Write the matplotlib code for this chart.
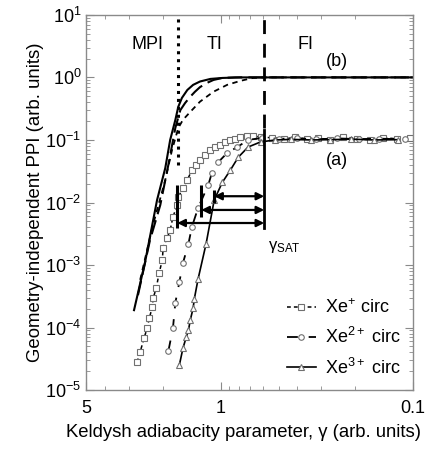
import numpy as np
import matplotlib.pyplot as plt
from matplotlib.ticker import LogLocator, NullFormatter, FixedLocator

plt.rcParams['font.family'] = ['Liberation Sans', 'DejaVu Sans']
plt.rcParams['mathtext.fontset'] = 'custom'
plt.rcParams['mathtext.rm'] = 'Liberation Sans'
plt.rcParams['mathtext.it'] = 'Liberation Sans:italic'

# curve set (b): lines only
gam_b1 = [2.82, 2.47, 2.14, 1.94, 1.83, 1.72, 1.66, 1.59, 1.49, 1.39, 1.28, 1.13, 0.98, 0.79, 0.5, 0.1]
ppi_b1 = [1.9e-4, 1.12e-3, 0.011, 0.0356, 0.1, 0.209, 0.34, 0.47, 0.63, 0.76, 0.86, 0.946, 0.98, 1.0, 1.0, 1.0]
gam_b2 = [2.69, 2.33, 2.06, 1.87, 1.72, 1.62, 1.53, 1.44, 1.36, 1.28, 1.175, 1.09, 0.98, 0.84, 0.5, 0.1]
ppi_b2 = [3.3e-4, 2.5e-3, 9.1e-3, 0.04, 0.156, 0.30, 0.39, 0.49, 0.59, 0.70, 0.82, 0.91, 0.98, 1.0, 1.0, 1.0]
gam_b3 = [2.62, 2.27, 1.94, 1.79, 1.66, 1.57, 1.44, 1.28, 1.09, 0.925, 0.79, 0.68, 0.587, 0.3, 0.1]
ppi_b3 = [5.8e-4, 3.9e-3, 0.023, 0.069, 0.156, 0.21, 0.28, 0.41, 0.59, 0.76, 0.88, 0.98, 1.0, 1.0, 1.0]

# curve set (a): Xe+ squares
gam_x1 = [2.72, 2.62, 2.50, 2.41, 2.35, 2.27, 2.24, 2.16, 2.09, 2.01, 1.99, 1.90,
          1.83, 1.77, 1.68, 1.66, 1.57, 1.49, 1.41, 1.34, 1.28, 1.21, 1.13, 1.07,
          1.01, 0.95, 0.89, 0.84, 0.79, 0.73, 0.68, 0.62, 0.54, 0.47, 0.41, 0.356,
          0.312, 0.27, 0.231, 0.195, 0.167, 0.143, 0.121, 0.104]
ppi_x1 = [2.8e-5, 4.1e-5, 6.8e-5, 9.8e-5, 1.4e-4, 2.1e-4, 3.0e-4, 4.3e-4, 7.4e-4,
          1.2e-3, 1.9e-3, 2.7e-3, 3.6e-3, 5.9e-3, 9.1e-3, 0.0122, 0.017, 0.023,
          0.033, 0.040, 0.048, 0.058, 0.069, 0.077, 0.083, 0.093, 0.10, 0.104,
          0.110, 0.114, 0.115, 0.112, 0.108, 0.104, 0.110, 0.103, 0.107, 0.101,
          0.112, 0.105, 0.100, 0.109, 0.104, 0.106]

# Xe2+ circles
gam_x2 = [1.87, 1.77, 1.72, 1.64, 1.57, 1.47, 1.41, 1.31, 1.16, 1.11, 1.03, 0.925,
          0.82, 0.72, 0.61, 0.50, 0.40, 0.32, 0.25, 0.19, 0.15, 0.11]
ppi_x2 = [4.2e-5, 9.8e-5, 2.5e-4, 5.3e-4, 1.08e-3, 2.2e-3, 4.1e-3, 8.2e-3, 0.019,
          0.030, 0.044, 0.062, 0.077, 0.10, 0.108, 0.104, 0.107, 0.102, 0.106,
          0.103, 0.105, 0.102]

# Xe3+ triangles
gam_x3 = [1.64, 1.57, 1.51, 1.47, 1.44, 1.39, 1.37, 1.31, 1.19, 1.08, 0.98, 0.89,
          0.81, 0.72, 0.62, 0.52, 0.43, 0.34, 0.27, 0.21, 0.16, 0.12]
ppi_x3 = [2.5e-5, 4.7e-5, 7.0e-5, 9.1e-5, 1.3e-4, 2.05e-4, 2.9e-4, 6.0e-4, 2.2e-3,
          0.011, 0.021, 0.033, 0.053, 0.077, 0.093, 0.100, 0.102, 0.100, 0.101,
          0.103, 0.100, 0.101]

# regime boundaries and saturation
gam_mpi_ti = 1.66
gam_ti_fi = 0.594
gam_sat = 0.594
sat_top, sat_bot = 0.145, 0.0039

# onset bars and arrows (one per charge state)
bar_gam = [1.68, 1.26, 1.08]
bar_hi = [0.019, 0.019, 0.0158]
bar_lo = [0.0039, 0.0059, 0.0098]
arrow_ppi = [0.0047, 0.0076, 0.0126]

fig = plt.figure(figsize=(4.33, 4.5), dpi=100)
ax = fig.add_axes([0.199, 0.133, 0.755, 0.834])

ax.plot(gam_b1, ppi_b1, '-', color='k', lw=1.5)
ax.plot(gam_b2, ppi_b2, color='k', lw=1.5, dashes=(7, 3))
ax.plot(gam_b3, ppi_b3, color='k', lw=1.3, dashes=(3, 2.5))

mk = dict(mfc='white', mec='#707070', mew=0.8, color='k')
ax.plot(gam_x1, ppi_x1, marker='s', ms=4, lw=1.1, dashes=(2.5, 2), label='Xe$^{+}$ circ', **mk)
ax.plot(gam_x2, ppi_x2, marker='o', ms=4, lw=1.3, dashes=(6, 6), label='Xe$^{2+}$ circ', **mk)
ax.plot(gam_x3, ppi_x3, marker='^', ms=5, lw=1.2, ls='-', label='Xe$^{3+}$ circ', **mk)

ax.axvline(gam_mpi_ti, ymin=0.60, ymax=1, color='k', lw=2.2, ls=(0, (1, 1.6)))
ax.plot([gam_ti_fi, gam_ti_fi], [0.156, 10], color='k', lw=2.0, dashes=(5, 3.5))
ax.plot([gam_sat, gam_sat], [sat_top, sat_bot], color='k', lw=2.0)
ax.vlines(bar_gam, bar_lo, bar_hi, color='k', lw=2.2)
for g, y in zip(bar_gam, arrow_ppi):
    ax.annotate('', xy=(g, y), xytext=(gam_sat, y),
                arrowprops=dict(arrowstyle='<|-|>', color='k', lw=1.6,
                                shrinkA=0, shrinkB=0, mutation_scale=11))

ax.set_xscale('log')
ax.set_yscale('log')
ax.set_xlim(5, 0.1)
ax.set_ylim(1e-5, 10)

ax.xaxis.set_major_locator(FixedLocator([5, 1, 0.1]))
ax.set_xticklabels(['5', '1', '0.1'])
ax.xaxis.set_minor_locator(LogLocator(base=10, subs=np.arange(2, 10)))
ax.xaxis.set_minor_formatter(NullFormatter())
ax.yaxis.set_major_locator(LogLocator(base=10, numticks=10))
ax.yaxis.set_minor_locator(LogLocator(base=10, subs=np.arange(2, 10), numticks=20))
ax.yaxis.set_minor_formatter(NullFormatter())

for s in ax.spines.values():
    s.set_color('#8a8a8a')
    s.set_linewidth(1.0)
ax.tick_params(which='both', direction='in', top=True, right=True,
               color='#8a8a8a', labelsize=13)
ax.tick_params(which='major', length=6)
ax.tick_params(which='minor', length=3)
ax.tick_params(axis='x', pad=7)

ax.set_xlabel('Keldysh adiabacity parameter, γ (arb. units)', fontsize=13.3, labelpad=5, x=0.48)
ax.set_ylabel('Geometry-independent PPI (arb. units)', fontsize=13.4, labelpad=1)

ax.text(0.187, 0.92, 'MPI', transform=ax.transAxes, ha='center', va='center', fontsize=13)
ax.text(0.394, 0.92, 'TI', transform=ax.transAxes, ha='center', va='center', fontsize=13)
ax.text(0.67, 0.92, 'FI', transform=ax.transAxes, ha='center', va='center', fontsize=13)
ax.text(0.768, 0.875, '(b)', transform=ax.transAxes, ha='center', va='center', fontsize=13)
ax.text(0.768, 0.613, '(a)', transform=ax.transAxes, ha='center', va='center', fontsize=13)
ax.text(0.557, 0.381, 'γ$_{\\mathrm{SAT}}$', transform=ax.transAxes, ha='left', va='center', fontsize=12)

ax.legend(loc='lower right', frameon=False, fontsize=13, handlelength=1.6,
          handletextpad=0.5, labelspacing=0.55, borderaxespad=0.3)

fig.savefig('out.png', dpi=100)
